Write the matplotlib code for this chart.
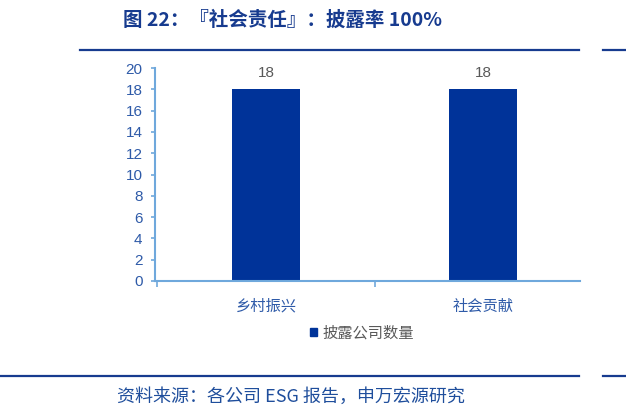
import matplotlib

matplotlib.use("Agg")
import matplotlib.pyplot as plt
from matplotlib.lines import Line2D
from matplotlib.patches import Patch

plt.rcParams["font.family"] = ["Noto Sans CJK SC", "DejaVu Sans"]

categories = ["乡村振兴", "社会贡献"]
counts = [18, 18]
series_name = "披露公司数量"
y_ticks = [0, 2, 4, 6, 8, 10, 12, 14, 16, 18, 20]

title = "图 22：『社会责任』：披露率 100%"
source = "资料来源：各公司 ESG 报告，申万宏源研究"

bar_color = "#003399"
spine_color = "#6fa8dc"
tick_text = "#2e5aa8"
label_grey = "#595959"
head_blue = "#173b8f"
num_font = "Liberation Sans"

W, H = 626, 417
fig = plt.figure(figsize=(W / 100, H / 100), dpi=100)
ax = fig.add_axes([155 / W, 1 - 281 / H, 425 / W, 213 / H])

x = list(range(len(categories)))
ax.bar(x, counts, width=0.313, color=bar_color, zorder=2)
for xi, v in zip(x, counts):
    ax.text(xi, v + 0.9, str(v), ha="center", va="bottom", fontsize=11,
            color=label_grey, family=num_font)

# category slots are 217.5 px wide, the axis line stops a bit short on the right
ax.set_xlim(-0.51, 1.444)
ax.set_ylim(0, 20)
ax.set_yticks(y_ticks)
ax.set_yticklabels([str(t) for t in y_ticks], family=num_font)
ax.set_xticks(x)
ax.set_xticklabels(categories)
ax.set_xticks([-0.5, 0.5], minor=True)
ax.tick_params(axis="x", which="major", length=0, pad=12, labelsize=11,
               labelcolor=tick_text)
ax.tick_params(axis="x", which="minor", length=4, color=spine_color, width=1.2)
ax.tick_params(axis="y", length=3, color=spine_color, width=1.2, labelsize=11,
               labelcolor=tick_text, pad=6)

for side in ("top", "right"):
    ax.spines[side].set_visible(False)
for side in ("left", "bottom"):
    ax.spines[side].set_color(spine_color)
    ax.spines[side].set_linewidth(1.5)

fig.legend(handles=[Patch(color=bar_color, label=series_name)],
           loc="center", bbox_to_anchor=(362 / W, 1 - 333 / H),
           frameon=False, fontsize=11, handlelength=0.45, handleheight=0.45,
           handletextpad=0.4, labelcolor=label_grey)

fig.text(123 / W, 1 - 20 / H, title, fontsize=14, fontweight="bold",
         color=head_blue, va="center", ha="left")

# header / footer rules, each broken near the right edge
for y in (49.5, 376):
    fig.add_artist(Line2D([(80 if y < 100 else 0) / W, 579 / W],
                          [1 - y / H] * 2, color=head_blue, lw=1.6))
    fig.add_artist(Line2D([603 / W, 1], [1 - y / H] * 2,
                          color=head_blue, lw=1.6))

fig.text(117 / W, 1 - 397 / H, source, fontsize=13, color="#1f4e9c",
         va="center", ha="left")

fig.savefig("out.png", dpi=100)
